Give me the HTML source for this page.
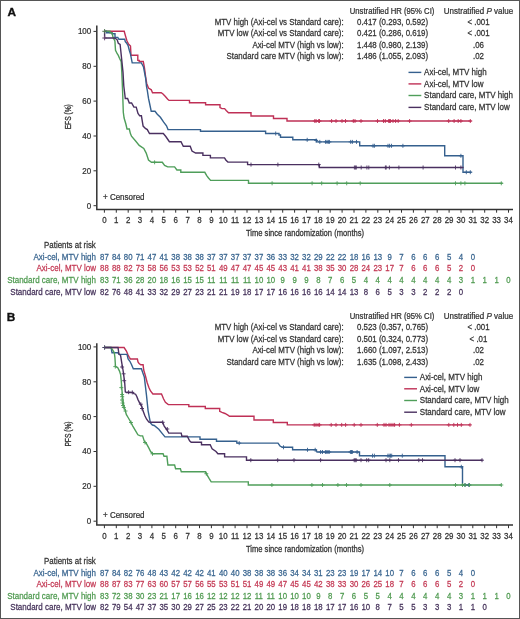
<!DOCTYPE html>
<html><head><meta charset="utf-8"><title>KM curves</title>
<style>html,body{margin:0;padding:0;background:#fff;}svg{display:block;will-change:transform;}text{font-family:"Liberation Sans",sans-serif;}</style>
</head><body>
<svg width="520" height="619" viewBox="0 0 520 619" font-family="Liberation Sans, sans-serif">
<rect x="0" y="0" width="520" height="619" fill="#fff"/>
<text x="7.5" y="16.3" font-size="11.8" font-weight="bold" fill="#111" stroke="#111" stroke-width="0.35">A</text>
<text x="6.8" y="321.0" font-size="11.8" font-weight="bold" fill="#111" stroke="#111" stroke-width="0.35">B</text>
<text transform="translate(349.80,13.50) scale(0.915,1)" font-size="8.4" fill="#333" stroke="#333" stroke-width="0.25">Unstratified HR (95% CI)</text>
<text transform="translate(443.80,13.50) scale(0.93,1)" font-size="8.6" fill="#333" stroke="#333" stroke-width="0.25">Unstratified <tspan font-style="italic">P</tspan> value</text>
<text transform="translate(343.60,24.80) scale(0.918,1)" font-size="8.6" text-anchor="end" fill="#333" stroke="#333" stroke-width="0.25">MTV high (Axi-cel vs Standard care):</text>
<text transform="translate(357.00,24.80) scale(0.918,1)" font-size="8.6" fill="#333" stroke="#333" stroke-width="0.25">0.417 (0.293, 0.592)</text>
<text transform="translate(478.50,24.80) scale(0.918,1)" font-size="8.6" text-anchor="middle" fill="#333" stroke="#333" stroke-width="0.25">&lt; .001</text>
<text transform="translate(343.60,36.30) scale(0.918,1)" font-size="8.6" text-anchor="end" fill="#333" stroke="#333" stroke-width="0.25">MTV low (Axi-cel vs Standard care):</text>
<text transform="translate(357.00,36.30) scale(0.918,1)" font-size="8.6" fill="#333" stroke="#333" stroke-width="0.25">0.421 (0.286, 0.619)</text>
<text transform="translate(478.50,36.30) scale(0.918,1)" font-size="8.6" text-anchor="middle" fill="#333" stroke="#333" stroke-width="0.25">&lt; .001</text>
<text transform="translate(343.60,47.60) scale(0.918,1)" font-size="8.6" text-anchor="end" fill="#333" stroke="#333" stroke-width="0.25">Axi-cel MTV (high vs low):</text>
<text transform="translate(357.00,47.60) scale(0.918,1)" font-size="8.6" fill="#333" stroke="#333" stroke-width="0.25">1.448 (0.980, 2.139)</text>
<text transform="translate(478.50,47.60) scale(0.918,1)" font-size="8.6" text-anchor="middle" fill="#333" stroke="#333" stroke-width="0.25">.06</text>
<text transform="translate(343.60,59.10) scale(0.918,1)" font-size="8.6" text-anchor="end" fill="#333" stroke="#333" stroke-width="0.25">Standard care MTV (high vs low):</text>
<text transform="translate(357.00,59.10) scale(0.918,1)" font-size="8.6" fill="#333" stroke="#333" stroke-width="0.25">1.486 (1.055, 2.093)</text>
<text transform="translate(478.50,59.10) scale(0.918,1)" font-size="8.6" text-anchor="middle" fill="#333" stroke="#333" stroke-width="0.25">.02</text>
<text transform="translate(349.80,318.90) scale(0.915,1)" font-size="8.4" fill="#333" stroke="#333" stroke-width="0.25">Unstratified HR (95% CI)</text>
<text transform="translate(443.80,318.90) scale(0.93,1)" font-size="8.6" fill="#333" stroke="#333" stroke-width="0.25">Unstratified <tspan font-style="italic">P</tspan> value</text>
<text transform="translate(343.60,330.00) scale(0.918,1)" font-size="8.6" text-anchor="end" fill="#333" stroke="#333" stroke-width="0.25">MTV high (Axi-cel vs Standard care):</text>
<text transform="translate(357.00,330.00) scale(0.918,1)" font-size="8.6" fill="#333" stroke="#333" stroke-width="0.25">0.523 (0.357, 0.765)</text>
<text transform="translate(478.50,330.00) scale(0.918,1)" font-size="8.6" text-anchor="middle" fill="#333" stroke="#333" stroke-width="0.25">&lt; .001</text>
<text transform="translate(343.60,341.60) scale(0.918,1)" font-size="8.6" text-anchor="end" fill="#333" stroke="#333" stroke-width="0.25">MTV low (Axi-cel vs Standard care):</text>
<text transform="translate(357.00,341.60) scale(0.918,1)" font-size="8.6" fill="#333" stroke="#333" stroke-width="0.25">0.501 (0.324, 0.773)</text>
<text transform="translate(478.50,341.60) scale(0.918,1)" font-size="8.6" text-anchor="middle" fill="#333" stroke="#333" stroke-width="0.25">&lt; .01</text>
<text transform="translate(343.60,353.30) scale(0.918,1)" font-size="8.6" text-anchor="end" fill="#333" stroke="#333" stroke-width="0.25">Axi-cel MTV (high vs low):</text>
<text transform="translate(357.00,353.30) scale(0.918,1)" font-size="8.6" fill="#333" stroke="#333" stroke-width="0.25">1.660 (1.097, 2.513)</text>
<text transform="translate(478.50,353.30) scale(0.918,1)" font-size="8.6" text-anchor="middle" fill="#333" stroke="#333" stroke-width="0.25">.02</text>
<text transform="translate(343.60,365.00) scale(0.918,1)" font-size="8.6" text-anchor="end" fill="#333" stroke="#333" stroke-width="0.25">Standard care MTV (high vs low):</text>
<text transform="translate(357.00,365.00) scale(0.918,1)" font-size="8.6" fill="#333" stroke="#333" stroke-width="0.25">1.635 (1.098, 2.433)</text>
<text transform="translate(478.50,365.00) scale(0.918,1)" font-size="8.6" text-anchor="middle" fill="#333" stroke="#333" stroke-width="0.25">.02</text>
<path d="M408.5,72.4 h12.8" stroke="#35608e" stroke-width="1.4"/>
<text transform="translate(424.10,75.00) scale(0.92,1)" font-size="8.7" fill="#333" stroke="#333" stroke-width="0.25">Axi-cel, MTV high</text>
<path d="M408.5,83.9 h12.8" stroke="#bf3056" stroke-width="1.4"/>
<text transform="translate(424.10,86.55) scale(0.92,1)" font-size="8.7" fill="#333" stroke="#333" stroke-width="0.25">Axi-cel, MTV low</text>
<path d="M408.5,95.5 h12.8" stroke="#4f9e5a" stroke-width="1.4"/>
<text transform="translate(424.10,98.10) scale(0.92,1)" font-size="8.7" fill="#333" stroke="#333" stroke-width="0.25">Standard care, MTV high</text>
<path d="M408.5,107.4 h12.8" stroke="#4a3060" stroke-width="1.4"/>
<text transform="translate(424.10,109.65) scale(0.92,1)" font-size="8.7" fill="#333" stroke="#333" stroke-width="0.25">Standard care, MTV low</text>
<path d="M404.2,377.4 h12.8" stroke="#35608e" stroke-width="1.4"/>
<text transform="translate(419.80,380.00) scale(0.92,1)" font-size="8.7" fill="#333" stroke="#333" stroke-width="0.25">Axi-cel, MTV high</text>
<path d="M404.2,388.8 h12.8" stroke="#bf3056" stroke-width="1.4"/>
<text transform="translate(419.80,391.55) scale(0.92,1)" font-size="8.7" fill="#333" stroke="#333" stroke-width="0.25">Axi-cel, MTV low</text>
<path d="M404.2,400.5 h12.8" stroke="#4f9e5a" stroke-width="1.4"/>
<text transform="translate(419.80,403.10) scale(0.92,1)" font-size="8.7" fill="#333" stroke="#333" stroke-width="0.25">Standard care, MTV high</text>
<path d="M404.2,412.2 h12.8" stroke="#4a3060" stroke-width="1.4"/>
<text transform="translate(419.80,414.65) scale(0.92,1)" font-size="8.7" fill="#333" stroke="#333" stroke-width="0.25">Standard care, MTV low</text>
<path d="M96.8,25.5 V209.5 H513" fill="none" stroke="#333" stroke-width="1.5"/>
<path d="M93.5,205.7 H96" stroke="#333" stroke-width="1"/>
<text transform="translate(91.20,208.70) scale(0.94,1)" font-size="8.5" text-anchor="end" fill="#333" stroke="#333" stroke-width="0.25">0</text>
<path d="M93.5,170.8 H96" stroke="#333" stroke-width="1"/>
<text transform="translate(91.20,173.84) scale(0.94,1)" font-size="8.5" text-anchor="end" fill="#333" stroke="#333" stroke-width="0.25">20</text>
<path d="M93.5,136.0 H96" stroke="#333" stroke-width="1"/>
<text transform="translate(91.20,138.98) scale(0.94,1)" font-size="8.5" text-anchor="end" fill="#333" stroke="#333" stroke-width="0.25">40</text>
<path d="M93.5,101.1 H96" stroke="#333" stroke-width="1"/>
<text transform="translate(91.20,104.12) scale(0.94,1)" font-size="8.5" text-anchor="end" fill="#333" stroke="#333" stroke-width="0.25">60</text>
<path d="M93.5,66.3 H96" stroke="#333" stroke-width="1"/>
<text transform="translate(91.20,69.26) scale(0.94,1)" font-size="8.5" text-anchor="end" fill="#333" stroke="#333" stroke-width="0.25">80</text>
<path d="M93.5,31.4 H96" stroke="#333" stroke-width="1"/>
<text transform="translate(91.20,34.40) scale(0.94,1)" font-size="8.5" text-anchor="end" fill="#333" stroke="#333" stroke-width="0.25">100</text>
<path d="M104.4,209.5 V212.7" stroke="#333" stroke-width="1"/>
<text transform="translate(104.40,222.50) scale(0.92,1)" font-size="8.6" text-anchor="middle" fill="#333" stroke="#333" stroke-width="0.25">0</text>
<path d="M116.3,209.5 V212.7" stroke="#333" stroke-width="1"/>
<text transform="translate(116.29,222.50) scale(0.92,1)" font-size="8.6" text-anchor="middle" fill="#333" stroke="#333" stroke-width="0.25">1</text>
<path d="M128.2,209.5 V212.7" stroke="#333" stroke-width="1"/>
<text transform="translate(128.17,222.50) scale(0.92,1)" font-size="8.6" text-anchor="middle" fill="#333" stroke="#333" stroke-width="0.25">2</text>
<path d="M140.1,209.5 V212.7" stroke="#333" stroke-width="1"/>
<text transform="translate(140.06,222.50) scale(0.92,1)" font-size="8.6" text-anchor="middle" fill="#333" stroke="#333" stroke-width="0.25">3</text>
<path d="M151.9,209.5 V212.7" stroke="#333" stroke-width="1"/>
<text transform="translate(151.94,222.50) scale(0.92,1)" font-size="8.6" text-anchor="middle" fill="#333" stroke="#333" stroke-width="0.25">4</text>
<path d="M163.8,209.5 V212.7" stroke="#333" stroke-width="1"/>
<text transform="translate(163.82,222.50) scale(0.92,1)" font-size="8.6" text-anchor="middle" fill="#333" stroke="#333" stroke-width="0.25">5</text>
<path d="M175.7,209.5 V212.7" stroke="#333" stroke-width="1"/>
<text transform="translate(175.71,222.50) scale(0.92,1)" font-size="8.6" text-anchor="middle" fill="#333" stroke="#333" stroke-width="0.25">6</text>
<path d="M187.6,209.5 V212.7" stroke="#333" stroke-width="1"/>
<text transform="translate(187.59,222.50) scale(0.92,1)" font-size="8.6" text-anchor="middle" fill="#333" stroke="#333" stroke-width="0.25">7</text>
<path d="M199.5,209.5 V212.7" stroke="#333" stroke-width="1"/>
<text transform="translate(199.48,222.50) scale(0.92,1)" font-size="8.6" text-anchor="middle" fill="#333" stroke="#333" stroke-width="0.25">8</text>
<path d="M211.4,209.5 V212.7" stroke="#333" stroke-width="1"/>
<text transform="translate(211.37,222.50) scale(0.92,1)" font-size="8.6" text-anchor="middle" fill="#333" stroke="#333" stroke-width="0.25">9</text>
<path d="M223.2,209.5 V212.7" stroke="#333" stroke-width="1"/>
<text transform="translate(223.25,222.50) scale(0.92,1)" font-size="8.6" text-anchor="middle" fill="#333" stroke="#333" stroke-width="0.25">10</text>
<path d="M235.1,209.5 V212.7" stroke="#333" stroke-width="1"/>
<text transform="translate(235.13,222.50) scale(0.92,1)" font-size="8.6" text-anchor="middle" fill="#333" stroke="#333" stroke-width="0.25">11</text>
<path d="M247.0,209.5 V212.7" stroke="#333" stroke-width="1"/>
<text transform="translate(247.02,222.50) scale(0.92,1)" font-size="8.6" text-anchor="middle" fill="#333" stroke="#333" stroke-width="0.25">12</text>
<path d="M258.9,209.5 V212.7" stroke="#333" stroke-width="1"/>
<text transform="translate(258.90,222.50) scale(0.92,1)" font-size="8.6" text-anchor="middle" fill="#333" stroke="#333" stroke-width="0.25">13</text>
<path d="M270.8,209.5 V212.7" stroke="#333" stroke-width="1"/>
<text transform="translate(270.79,222.50) scale(0.92,1)" font-size="8.6" text-anchor="middle" fill="#333" stroke="#333" stroke-width="0.25">14</text>
<path d="M282.7,209.5 V212.7" stroke="#333" stroke-width="1"/>
<text transform="translate(282.68,222.50) scale(0.92,1)" font-size="8.6" text-anchor="middle" fill="#333" stroke="#333" stroke-width="0.25">15</text>
<path d="M294.6,209.5 V212.7" stroke="#333" stroke-width="1"/>
<text transform="translate(294.56,222.50) scale(0.92,1)" font-size="8.6" text-anchor="middle" fill="#333" stroke="#333" stroke-width="0.25">16</text>
<path d="M306.4,209.5 V212.7" stroke="#333" stroke-width="1"/>
<text transform="translate(306.44,222.50) scale(0.92,1)" font-size="8.6" text-anchor="middle" fill="#333" stroke="#333" stroke-width="0.25">17</text>
<path d="M318.3,209.5 V212.7" stroke="#333" stroke-width="1"/>
<text transform="translate(318.33,222.50) scale(0.92,1)" font-size="8.6" text-anchor="middle" fill="#333" stroke="#333" stroke-width="0.25">18</text>
<path d="M330.2,209.5 V212.7" stroke="#333" stroke-width="1"/>
<text transform="translate(330.22,222.50) scale(0.92,1)" font-size="8.6" text-anchor="middle" fill="#333" stroke="#333" stroke-width="0.25">19</text>
<path d="M342.1,209.5 V212.7" stroke="#333" stroke-width="1"/>
<text transform="translate(342.10,222.50) scale(0.92,1)" font-size="8.6" text-anchor="middle" fill="#333" stroke="#333" stroke-width="0.25">20</text>
<path d="M354.0,209.5 V212.7" stroke="#333" stroke-width="1"/>
<text transform="translate(353.99,222.50) scale(0.92,1)" font-size="8.6" text-anchor="middle" fill="#333" stroke="#333" stroke-width="0.25">21</text>
<path d="M365.9,209.5 V212.7" stroke="#333" stroke-width="1"/>
<text transform="translate(365.87,222.50) scale(0.92,1)" font-size="8.6" text-anchor="middle" fill="#333" stroke="#333" stroke-width="0.25">22</text>
<path d="M377.8,209.5 V212.7" stroke="#333" stroke-width="1"/>
<text transform="translate(377.75,222.50) scale(0.92,1)" font-size="8.6" text-anchor="middle" fill="#333" stroke="#333" stroke-width="0.25">23</text>
<path d="M389.6,209.5 V212.7" stroke="#333" stroke-width="1"/>
<text transform="translate(389.64,222.50) scale(0.92,1)" font-size="8.6" text-anchor="middle" fill="#333" stroke="#333" stroke-width="0.25">24</text>
<path d="M401.5,209.5 V212.7" stroke="#333" stroke-width="1"/>
<text transform="translate(401.52,222.50) scale(0.92,1)" font-size="8.6" text-anchor="middle" fill="#333" stroke="#333" stroke-width="0.25">25</text>
<path d="M413.4,209.5 V212.7" stroke="#333" stroke-width="1"/>
<text transform="translate(413.41,222.50) scale(0.92,1)" font-size="8.6" text-anchor="middle" fill="#333" stroke="#333" stroke-width="0.25">26</text>
<path d="M425.3,209.5 V212.7" stroke="#333" stroke-width="1"/>
<text transform="translate(425.29,222.50) scale(0.92,1)" font-size="8.6" text-anchor="middle" fill="#333" stroke="#333" stroke-width="0.25">27</text>
<path d="M437.2,209.5 V212.7" stroke="#333" stroke-width="1"/>
<text transform="translate(437.18,222.50) scale(0.92,1)" font-size="8.6" text-anchor="middle" fill="#333" stroke="#333" stroke-width="0.25">28</text>
<path d="M449.1,209.5 V212.7" stroke="#333" stroke-width="1"/>
<text transform="translate(449.07,222.50) scale(0.92,1)" font-size="8.6" text-anchor="middle" fill="#333" stroke="#333" stroke-width="0.25">29</text>
<path d="M461.0,209.5 V212.7" stroke="#333" stroke-width="1"/>
<text transform="translate(460.95,222.50) scale(0.92,1)" font-size="8.6" text-anchor="middle" fill="#333" stroke="#333" stroke-width="0.25">30</text>
<path d="M472.8,209.5 V212.7" stroke="#333" stroke-width="1"/>
<text transform="translate(472.84,222.50) scale(0.92,1)" font-size="8.6" text-anchor="middle" fill="#333" stroke="#333" stroke-width="0.25">31</text>
<path d="M484.7,209.5 V212.7" stroke="#333" stroke-width="1"/>
<text transform="translate(484.72,222.50) scale(0.92,1)" font-size="8.6" text-anchor="middle" fill="#333" stroke="#333" stroke-width="0.25">32</text>
<path d="M496.6,209.5 V212.7" stroke="#333" stroke-width="1"/>
<text transform="translate(496.61,222.50) scale(0.92,1)" font-size="8.6" text-anchor="middle" fill="#333" stroke="#333" stroke-width="0.25">33</text>
<path d="M508.5,209.5 V212.7" stroke="#333" stroke-width="1"/>
<text transform="translate(508.49,222.50) scale(0.92,1)" font-size="8.6" text-anchor="middle" fill="#333" stroke="#333" stroke-width="0.25">34</text>
<text transform="translate(305,235.7) scale(0.775,1)" text-anchor="middle" font-size="9.8" fill="#333" stroke="#333" stroke-width="0.3">Time since randomization (months)</text>
<text transform="translate(71.4,116.8) rotate(-90) scale(0.74,1)" text-anchor="middle" font-size="9" fill="#333" stroke="#333" stroke-width="0.3">EFS (%)</text>
<path d="M96.8,343.2 V525 H513" fill="none" stroke="#333" stroke-width="1.5"/>
<path d="M93.5,521.2 H96" stroke="#333" stroke-width="1"/>
<text transform="translate(91.20,524.20) scale(0.94,1)" font-size="8.5" text-anchor="end" fill="#333" stroke="#333" stroke-width="0.25">0</text>
<path d="M93.5,486.3 H96" stroke="#333" stroke-width="1"/>
<text transform="translate(91.20,489.34) scale(0.94,1)" font-size="8.5" text-anchor="end" fill="#333" stroke="#333" stroke-width="0.25">20</text>
<path d="M93.5,451.5 H96" stroke="#333" stroke-width="1"/>
<text transform="translate(91.20,454.48) scale(0.94,1)" font-size="8.5" text-anchor="end" fill="#333" stroke="#333" stroke-width="0.25">40</text>
<path d="M93.5,416.6 H96" stroke="#333" stroke-width="1"/>
<text transform="translate(91.20,419.62) scale(0.94,1)" font-size="8.5" text-anchor="end" fill="#333" stroke="#333" stroke-width="0.25">60</text>
<path d="M93.5,381.8 H96" stroke="#333" stroke-width="1"/>
<text transform="translate(91.20,384.76) scale(0.94,1)" font-size="8.5" text-anchor="end" fill="#333" stroke="#333" stroke-width="0.25">80</text>
<path d="M93.5,346.9 H96" stroke="#333" stroke-width="1"/>
<text transform="translate(91.20,349.90) scale(0.94,1)" font-size="8.5" text-anchor="end" fill="#333" stroke="#333" stroke-width="0.25">100</text>
<path d="M104.4,525 V528.2" stroke="#333" stroke-width="1"/>
<text transform="translate(104.40,538.50) scale(0.92,1)" font-size="8.6" text-anchor="middle" fill="#333" stroke="#333" stroke-width="0.25">0</text>
<path d="M116.3,525 V528.2" stroke="#333" stroke-width="1"/>
<text transform="translate(116.29,538.50) scale(0.92,1)" font-size="8.6" text-anchor="middle" fill="#333" stroke="#333" stroke-width="0.25">1</text>
<path d="M128.2,525 V528.2" stroke="#333" stroke-width="1"/>
<text transform="translate(128.17,538.50) scale(0.92,1)" font-size="8.6" text-anchor="middle" fill="#333" stroke="#333" stroke-width="0.25">2</text>
<path d="M140.1,525 V528.2" stroke="#333" stroke-width="1"/>
<text transform="translate(140.06,538.50) scale(0.92,1)" font-size="8.6" text-anchor="middle" fill="#333" stroke="#333" stroke-width="0.25">3</text>
<path d="M151.9,525 V528.2" stroke="#333" stroke-width="1"/>
<text transform="translate(151.94,538.50) scale(0.92,1)" font-size="8.6" text-anchor="middle" fill="#333" stroke="#333" stroke-width="0.25">4</text>
<path d="M163.8,525 V528.2" stroke="#333" stroke-width="1"/>
<text transform="translate(163.82,538.50) scale(0.92,1)" font-size="8.6" text-anchor="middle" fill="#333" stroke="#333" stroke-width="0.25">5</text>
<path d="M175.7,525 V528.2" stroke="#333" stroke-width="1"/>
<text transform="translate(175.71,538.50) scale(0.92,1)" font-size="8.6" text-anchor="middle" fill="#333" stroke="#333" stroke-width="0.25">6</text>
<path d="M187.6,525 V528.2" stroke="#333" stroke-width="1"/>
<text transform="translate(187.59,538.50) scale(0.92,1)" font-size="8.6" text-anchor="middle" fill="#333" stroke="#333" stroke-width="0.25">7</text>
<path d="M199.5,525 V528.2" stroke="#333" stroke-width="1"/>
<text transform="translate(199.48,538.50) scale(0.92,1)" font-size="8.6" text-anchor="middle" fill="#333" stroke="#333" stroke-width="0.25">8</text>
<path d="M211.4,525 V528.2" stroke="#333" stroke-width="1"/>
<text transform="translate(211.37,538.50) scale(0.92,1)" font-size="8.6" text-anchor="middle" fill="#333" stroke="#333" stroke-width="0.25">9</text>
<path d="M223.2,525 V528.2" stroke="#333" stroke-width="1"/>
<text transform="translate(223.25,538.50) scale(0.92,1)" font-size="8.6" text-anchor="middle" fill="#333" stroke="#333" stroke-width="0.25">10</text>
<path d="M235.1,525 V528.2" stroke="#333" stroke-width="1"/>
<text transform="translate(235.13,538.50) scale(0.92,1)" font-size="8.6" text-anchor="middle" fill="#333" stroke="#333" stroke-width="0.25">11</text>
<path d="M247.0,525 V528.2" stroke="#333" stroke-width="1"/>
<text transform="translate(247.02,538.50) scale(0.92,1)" font-size="8.6" text-anchor="middle" fill="#333" stroke="#333" stroke-width="0.25">12</text>
<path d="M258.9,525 V528.2" stroke="#333" stroke-width="1"/>
<text transform="translate(258.90,538.50) scale(0.92,1)" font-size="8.6" text-anchor="middle" fill="#333" stroke="#333" stroke-width="0.25">13</text>
<path d="M270.8,525 V528.2" stroke="#333" stroke-width="1"/>
<text transform="translate(270.79,538.50) scale(0.92,1)" font-size="8.6" text-anchor="middle" fill="#333" stroke="#333" stroke-width="0.25">14</text>
<path d="M282.7,525 V528.2" stroke="#333" stroke-width="1"/>
<text transform="translate(282.68,538.50) scale(0.92,1)" font-size="8.6" text-anchor="middle" fill="#333" stroke="#333" stroke-width="0.25">15</text>
<path d="M294.6,525 V528.2" stroke="#333" stroke-width="1"/>
<text transform="translate(294.56,538.50) scale(0.92,1)" font-size="8.6" text-anchor="middle" fill="#333" stroke="#333" stroke-width="0.25">16</text>
<path d="M306.4,525 V528.2" stroke="#333" stroke-width="1"/>
<text transform="translate(306.44,538.50) scale(0.92,1)" font-size="8.6" text-anchor="middle" fill="#333" stroke="#333" stroke-width="0.25">17</text>
<path d="M318.3,525 V528.2" stroke="#333" stroke-width="1"/>
<text transform="translate(318.33,538.50) scale(0.92,1)" font-size="8.6" text-anchor="middle" fill="#333" stroke="#333" stroke-width="0.25">18</text>
<path d="M330.2,525 V528.2" stroke="#333" stroke-width="1"/>
<text transform="translate(330.22,538.50) scale(0.92,1)" font-size="8.6" text-anchor="middle" fill="#333" stroke="#333" stroke-width="0.25">19</text>
<path d="M342.1,525 V528.2" stroke="#333" stroke-width="1"/>
<text transform="translate(342.10,538.50) scale(0.92,1)" font-size="8.6" text-anchor="middle" fill="#333" stroke="#333" stroke-width="0.25">20</text>
<path d="M354.0,525 V528.2" stroke="#333" stroke-width="1"/>
<text transform="translate(353.99,538.50) scale(0.92,1)" font-size="8.6" text-anchor="middle" fill="#333" stroke="#333" stroke-width="0.25">21</text>
<path d="M365.9,525 V528.2" stroke="#333" stroke-width="1"/>
<text transform="translate(365.87,538.50) scale(0.92,1)" font-size="8.6" text-anchor="middle" fill="#333" stroke="#333" stroke-width="0.25">22</text>
<path d="M377.8,525 V528.2" stroke="#333" stroke-width="1"/>
<text transform="translate(377.75,538.50) scale(0.92,1)" font-size="8.6" text-anchor="middle" fill="#333" stroke="#333" stroke-width="0.25">23</text>
<path d="M389.6,525 V528.2" stroke="#333" stroke-width="1"/>
<text transform="translate(389.64,538.50) scale(0.92,1)" font-size="8.6" text-anchor="middle" fill="#333" stroke="#333" stroke-width="0.25">24</text>
<path d="M401.5,525 V528.2" stroke="#333" stroke-width="1"/>
<text transform="translate(401.52,538.50) scale(0.92,1)" font-size="8.6" text-anchor="middle" fill="#333" stroke="#333" stroke-width="0.25">25</text>
<path d="M413.4,525 V528.2" stroke="#333" stroke-width="1"/>
<text transform="translate(413.41,538.50) scale(0.92,1)" font-size="8.6" text-anchor="middle" fill="#333" stroke="#333" stroke-width="0.25">26</text>
<path d="M425.3,525 V528.2" stroke="#333" stroke-width="1"/>
<text transform="translate(425.29,538.50) scale(0.92,1)" font-size="8.6" text-anchor="middle" fill="#333" stroke="#333" stroke-width="0.25">27</text>
<path d="M437.2,525 V528.2" stroke="#333" stroke-width="1"/>
<text transform="translate(437.18,538.50) scale(0.92,1)" font-size="8.6" text-anchor="middle" fill="#333" stroke="#333" stroke-width="0.25">28</text>
<path d="M449.1,525 V528.2" stroke="#333" stroke-width="1"/>
<text transform="translate(449.07,538.50) scale(0.92,1)" font-size="8.6" text-anchor="middle" fill="#333" stroke="#333" stroke-width="0.25">29</text>
<path d="M461.0,525 V528.2" stroke="#333" stroke-width="1"/>
<text transform="translate(460.95,538.50) scale(0.92,1)" font-size="8.6" text-anchor="middle" fill="#333" stroke="#333" stroke-width="0.25">30</text>
<path d="M472.8,525 V528.2" stroke="#333" stroke-width="1"/>
<text transform="translate(472.84,538.50) scale(0.92,1)" font-size="8.6" text-anchor="middle" fill="#333" stroke="#333" stroke-width="0.25">31</text>
<path d="M484.7,525 V528.2" stroke="#333" stroke-width="1"/>
<text transform="translate(484.72,538.50) scale(0.92,1)" font-size="8.6" text-anchor="middle" fill="#333" stroke="#333" stroke-width="0.25">32</text>
<path d="M496.6,525 V528.2" stroke="#333" stroke-width="1"/>
<text transform="translate(496.61,538.50) scale(0.92,1)" font-size="8.6" text-anchor="middle" fill="#333" stroke="#333" stroke-width="0.25">33</text>
<path d="M508.5,525 V528.2" stroke="#333" stroke-width="1"/>
<text transform="translate(508.49,538.50) scale(0.92,1)" font-size="8.6" text-anchor="middle" fill="#333" stroke="#333" stroke-width="0.25">34</text>
<text transform="translate(305,551.7) scale(0.775,1)" text-anchor="middle" font-size="9.8" fill="#333" stroke="#333" stroke-width="0.3">Time since randomization (months)</text>
<text transform="translate(71.4,434) rotate(-90) scale(0.74,1)" text-anchor="middle" font-size="9" fill="#333" stroke="#333" stroke-width="0.3">PFS (%)</text>
<text transform="translate(103.00,199.80) scale(0.93,1)" font-size="8.6" fill="#333" stroke="#333" stroke-width="0.25">+ Censored</text>
<text transform="translate(103.00,517.60) scale(0.93,1)" font-size="8.6" fill="#333" stroke="#333" stroke-width="0.25">+ Censored</text>
<path d="M104.5,31.3 H124.2 L125.5,36 L127,41 L128.5,44 L130.5,46 L131,55.2 H137.8 V60.4 H139.2 V61.5 H143.3 L144.5,68 L145.6,76.5 L146.7,83.4 L148.5,88 L151.3,89.8 L152.5,92.7 H161.2 L163,94 L165.4,96.5 L167.5,99 L169,100.4 H189.5 V102.7 H205.6 V104.7 H220 V107.5 L222,108.6 H224.6 L226.2,110.4 L228.5,112.7 H251 V116 H273.5 V118.5 H287 V121 H471.6" fill="none" stroke="#bf3056" stroke-width="1.4" stroke-linejoin="miter"/>
<path d="M104.5,31.3 H106.5 V32.8 H112 V33.8 H115 V37.5 H117.8 L118.9,39.3 H124.7 L125.3,41.6 L126.5,43 L128.1,45.6 L129.3,50.2 L130.4,53.7 L132.2,62.9 H141.4 L142.6,65.2 L143.5,67 L145.6,78 L146.5,86.5 L147.3,90.4 L148.5,98.4 L149.5,103 L151.2,111.2 H155 L157.3,114.2 L160.4,117.3 L163.5,121.9 L166.5,125.8 L168,129.6 H200.5 V131.3 H265.6 V133.5 H279 V135 H280.5 V137.3 H292.8 V139.8 H316.5 V141.9 H359.7 V145.8 H444.7 V155.8 H463 V172.2 H471.6" fill="none" stroke="#35608e" stroke-width="1.4" stroke-linejoin="miter"/>
<path d="M104.5,31.3 H110 V32.9 H112 L113.1,37.5 L114.9,41 L115.5,50.2 L117.2,53.7 L118.3,55.4 L119.5,58.3 L121.2,61.8 L121.8,72.1 L122.6,91.5 L123.3,112.3 L124.1,118 L125.8,123.8 L127,129 H129.3 L130.4,133.6 L131.5,136.2 L135.4,140.8 L139.2,145.4 L143.8,148.5 L146.2,153.1 L148.5,160 L151.5,162.3 H162.3 L164.6,165.4 L167.7,166.9 H174.6 L176.9,170 H180.8 V172.3 H204.8 L206.7,175.6 L208.5,178 L210.6,180.4 H248.5 V183.3 H502.6" fill="none" stroke="#4f9e5a" stroke-width="1.4" stroke-linejoin="miter"/>
<path d="M104.6,31.3 V38 H114.4 L115.5,38.5 L117.2,39.8 L118.3,43.3 L120.1,44.5 L120.6,49 L121.8,60.6 L123,72.1 L123.8,86 L125.3,98.5 H127.6 L129.3,103 H131.6 L133.9,107.1 H136.2 L138,113.4 L139.7,115.8 H141.4 L143.1,126.1 L145.4,128.4 L147.3,129.6 L149.5,133.5 H163.3 L165.8,136.5 L169.4,141.7 H181 L183.3,146.3 H190.2 L192,151 L195.6,153 H202.9 V155.4 H210.4 V157.9 H224.5 L226,160.2 L227.9,162.1 H247.6 V164.6 H319.3 V167.5 H463.6" fill="none" stroke="#4a3060" stroke-width="1.4" stroke-linejoin="miter"/>
<path d="M314.8,119 v4 M312.8,121 h4 M316.1,119 v4 M314.1,121 h4 M318.7,119 v4 M316.7,121 h4 M319.5,119 v4 M317.5,121 h4 M331.6,119 v4 M329.6,121 h4 M336,119 v4 M334,121 h4 M342,119 v4 M340,121 h4 M345.5,119 v4 M343.5,121 h4 M353.3,119 v4 M351.3,121 h4 M355,119 v4 M353,121 h4 M361,119 v4 M359,121 h4 M377.5,119 v4 M375.5,121 h4 M383.5,119 v4 M381.5,121 h4 M385.3,119 v4 M383.3,121 h4 M388.7,119 v4 M386.7,121 h4 M389.6,119 v4 M387.6,121 h4 M390.4,119 v4 M388.4,121 h4 M393,119 v4 M391,121 h4 M395.6,119 v4 M393.6,121 h4 M398.2,119 v4 M396.2,121 h4 M409.6,119 v4 M407.6,121 h4 M448.7,119 v4 M446.7,121 h4 M454.1,119 v4 M452.1,121 h4 M458.2,119 v4 M456.2,121 h4 M460.9,119 v4 M458.9,121 h4 M470.3,119 v4 M468.3,121 h4" fill="none" stroke="#bf3056" stroke-width="0.9"/>
<path d="M275.7,131.5 v4 M273.7,133.5 h4 M307.2,137.8 v4 M305.2,139.8 h4 M316.2,138.5 v4 M314.2,140.5 h4 M319.8,139.9 v4 M317.8,141.9 h4 M325.6,139.9 v4 M323.6,141.9 h4 M327,139.9 v4 M325,141.9 h4 M328.3,139.9 v4 M326.3,141.9 h4 M329.4,139.9 v4 M327.4,141.9 h4 M350.7,139.9 v4 M348.7,141.9 h4 M352.4,139.9 v4 M350.4,141.9 h4 M356.5,139.9 v4 M354.5,141.9 h4 M373,143.8 v4 M371,145.8 h4 M374.4,143.8 v4 M372.4,145.8 h4 M388,143.8 v4 M386,145.8 h4 M389.6,143.8 v4 M387.6,145.8 h4 M391.5,143.8 v4 M389.5,145.8 h4 M402.9,143.8 v4 M400.9,145.8 h4 M460.9,153.8 v4 M458.9,155.8 h4 M466.3,170.2 v4 M464.3,172.2 h4 M470.3,170.2 v4 M468.3,172.2 h4" fill="none" stroke="#35608e" stroke-width="0.9"/>
<path d="M251,162.6 v4 M249,164.6 h4 M277.9,162.6 v4 M275.9,164.6 h4 M318.8,162.6 v4 M316.8,164.6 h4 M354.4,165.5 v4 M352.4,167.5 h4 M355.4,165.5 v4 M353.4,167.5 h4 M356.3,165.5 v4 M354.3,167.5 h4 M361.2,165.5 v4 M359.2,167.5 h4 M366.9,165.5 v4 M364.9,167.5 h4 M368.8,165.5 v4 M366.8,167.5 h4 M385.4,165.5 v4 M383.4,167.5 h4 M386.2,165.5 v4 M384.2,167.5 h4 M389.4,165.5 v4 M387.4,167.5 h4 M398.9,165.5 v4 M396.9,167.5 h4 M423.1,165.5 v4 M421.1,167.5 h4 M455.5,165.5 v4 M453.5,167.5 h4 M460.9,165.5 v4 M458.9,167.5 h4" fill="none" stroke="#4a3060" stroke-width="0.9"/>
<path d="M154.6,160.3 v4 M152.6,162.3 h4 M272.1,181.3 v4 M270.1,183.3 h4 M312.1,181.3 v4 M310.1,183.3 h4 M321.7,181.3 v4 M319.7,183.3 h4 M337.1,181.3 v4 M335.1,183.3 h4 M346.7,181.3 v4 M344.7,183.3 h4 M360.2,181.3 v4 M358.2,183.3 h4 M455.5,181.3 v4 M453.5,183.3 h4 M460.9,181.3 v4 M458.9,183.3 h4 M464.9,181.3 v4 M462.9,183.3 h4 M501.3,181.3 v4 M499.3,183.3 h4" fill="none" stroke="#4f9e5a" stroke-width="0.9"/>
<path d="M102.3,31.3 h4.6 M104.6,29 v4.6" stroke="#557755" stroke-width="1"/>
<path d="M102.3,38 h4.6 M104.6,35.7 v4.6" stroke="#6a4a70" stroke-width="1"/>
<path d="M102.3,347.5 h4.6 M104.6,345.2 v4.6" stroke="#444466" stroke-width="1"/>
<path d="M104.5,347.5 H124.1 L126.4,351 L128.1,355 L129.3,357.3 L130.4,359 H137.4 L138,361.9 L139.1,363.6 L140.8,364.8 H143.1 L143.7,370 L145.4,375.8 L147.2,382.7 L148.9,387.5 L150.5,391 L152.9,394 H161.5 L163.5,398.8 L165.4,402.3 L168.3,404.6 H188.8 V406.5 H205.3 V408.5 H219.7 V411.3 L222,412.3 L225,413.5 L227.9,415.2 L229.5,416.3 H254 V420 H273.3 V422.5 H287.3 V424.9 H470.5" fill="none" stroke="#bf3056" stroke-width="1.4" stroke-linejoin="miter"/>
<path d="M104.5,347.5 H111 L111.4,349.2 L112,352.7 H117.8 L118.9,354.4 H127 L128.1,359 L129.9,361.3 L131.6,364.8 L133.3,368.8 H141.4 L142.6,372.3 L144.3,376.9 L145.4,386.1 L146.5,395.4 L148.1,410.8 L150.4,423 L152.4,425 L154.2,425.5 L158.8,429.2 L161.9,433.1 L165,436.9 H200 V439.2 H216.5 V441.2 H236.8 V443.1 H278 L280,446 L282.5,447.3 H292.6 V449.8 H316 L317,452 H359.5 V455.7 H445 V466.8 H462.5 V485 H470" fill="none" stroke="#35608e" stroke-width="1.4" stroke-linejoin="miter"/>
<path d="M104.5,347.5 H111 L112.6,349.8 L114.3,352.7 L114.9,357.3 L115.5,366.5 L117.8,367.7 L119.5,371.1 L120.6,374.6 L121.2,380.4 L121.8,388.4 L122.4,395 L123.5,404.2 L124.7,408.8 L126.4,414.6 L128.1,417.5 L130.4,421.5 L132.8,426.1 L135.6,430.8 L137.9,434.8 L140.3,435.9 H142.6 L144.3,441.1 L146.6,444 L148.9,448.1 L150.6,451.5 L152.5,453.8 H163.1 L164,456.3 H166.9 L167.9,465 H174.6 L175.6,468.8 H180.4 L181.3,471.7 H205.4 L206.3,473.7 L209.2,478.7 L211.2,481.9 H248.3 V485 H501.3" fill="none" stroke="#4f9e5a" stroke-width="1.4" stroke-linejoin="miter"/>
<path d="M104.5,347.5 H118 L118.9,353.8 L120.6,355.6 L121.8,363.1 L123,370 L124.1,378.1 L124.7,382.7 L125.3,391.9 L126.4,392.5 H132.8 L133.9,393.6 L135.6,394.2 L136.8,396.5 L138,399.6 L139.7,403.1 L141.4,405.4 L143.1,411.1 L144.9,415.8 L146.6,419.2 L148.9,422.1 L150,422.3 H162.7 L164.2,426.2 L166.5,429.2 L168.8,433.1 H181.2 L181.9,436.2 H187.3 L189.6,440.8 L191.2,442.3 H201.5 V444.8 H210.2 L212.1,448.7 L216,451.5 L217.9,453.8 H224.6 V456.9 H246.5 V460.2 H482.5" fill="none" stroke="#4a3060" stroke-width="1.4" stroke-linejoin="miter"/>
<path d="M314.2,422.9 v4 M312.2,424.9 h4 M316,422.9 v4 M314,424.9 h4 M318.1,422.9 v4 M316.1,424.9 h4 M319.6,422.9 v4 M317.6,424.9 h4 M331.2,422.9 v4 M329.2,424.9 h4 M336,422.9 v4 M334,424.9 h4 M341.7,422.9 v4 M339.7,424.9 h4 M345.6,422.9 v4 M343.6,424.9 h4 M354.2,422.9 v4 M352.2,424.9 h4 M361,422.9 v4 M359,424.9 h4 M377.3,422.9 v4 M375.3,424.9 h4 M384,422.9 v4 M382,424.9 h4 M386,422.9 v4 M384,424.9 h4 M389,422.9 v4 M387,424.9 h4 M391,422.9 v4 M389,424.9 h4 M393,422.9 v4 M391,424.9 h4 M394.6,422.9 v4 M392.6,424.9 h4 M399.4,422.9 v4 M397.4,424.9 h4 M411.3,422.9 v4 M409.3,424.9 h4 M448.8,422.9 v4 M446.8,424.9 h4 M453.8,422.9 v4 M451.8,424.9 h4 M457.5,422.9 v4 M455.5,424.9 h4 M461.3,422.9 v4 M459.3,424.9 h4 M470,422.9 v4 M468,424.9 h4" fill="none" stroke="#bf3056" stroke-width="0.9"/>
<path d="M239.2,441.1 v4 M237.2,443.1 h4 M283.5,445.3 v4 M281.5,447.3 h4 M307.5,447.8 v4 M305.5,449.8 h4 M315.2,447.8 v4 M313.2,449.8 h4 M320.6,450 v4 M318.6,452 h4 M322.5,450 v4 M320.5,452 h4 M325.4,450 v4 M323.4,452 h4 M326.8,450 v4 M324.8,452 h4 M328,450 v4 M326,452 h4 M329.2,450 v4 M327.2,452 h4 M350.4,450 v4 M348.4,452 h4 M351.5,450 v4 M349.5,452 h4 M352.3,450 v4 M350.3,452 h4 M357.1,450 v4 M355.1,452 h4 M372.5,453.7 v4 M370.5,455.7 h4 M374.4,453.7 v4 M372.4,455.7 h4 M387.9,453.7 v4 M385.9,455.7 h4 M389.2,453.7 v4 M387.2,455.7 h4 M390.5,453.7 v4 M388.5,455.7 h4 M391.7,453.7 v4 M389.7,455.7 h4 M402.3,453.7 v4 M400.3,455.7 h4 M461.3,464.8 v4 M459.3,466.8 h4 M465,483 v4 M463,485 h4 M468.8,483 v4 M466.8,485 h4" fill="none" stroke="#35608e" stroke-width="0.9"/>
<path d="M122.1,365 v4 M120.1,367 h4 M123.6,371.8 v4 M121.6,373.8 h4 M124.2,378.7 v4 M122.2,380.7 h4 M128.6,390.2 v4 M126.6,392.2 h4 M132.3,390.4 v4 M130.3,392.4 h4 M140.8,402.2 v4 M138.8,404.2 h4 M142,406.5 v4 M140,408.5 h4 M162.7,420.3 v4 M160.7,422.3 h4 M167.3,427 v4 M165.3,429 h4 M250.8,458.2 v4 M248.8,460.2 h4 M277.7,458.2 v4 M275.7,460.2 h4 M294,458.2 v4 M292,460.2 h4 M320.6,458.2 v4 M318.6,460.2 h4 M354.2,458.2 v4 M352.2,460.2 h4 M355.2,458.2 v4 M353.2,460.2 h4 M356.2,458.2 v4 M354.2,460.2 h4 M361,458.2 v4 M359,460.2 h4 M366.7,458.2 v4 M364.7,460.2 h4 M368.7,458.2 v4 M366.7,460.2 h4 M386,458.2 v4 M384,460.2 h4 M389.8,458.2 v4 M387.8,460.2 h4 M398.5,458.2 v4 M396.5,460.2 h4 M418.8,458.2 v4 M416.8,460.2 h4 M422.5,458.2 v4 M420.5,460.2 h4 M455,458.2 v4 M453,460.2 h4 M460,458.2 v4 M458,460.2 h4 M482,458.2 v4 M480,460.2 h4" fill="none" stroke="#4a3060" stroke-width="0.9"/>
<path d="M115.3,364.6 v4 M113.3,366.6 h4 M121.3,385.6 v4 M119.3,387.6 h4 M122.1,392.5 v4 M120.1,394.5 h4 M122.2,394.7 v4 M120.2,396.7 h4 M131,420.5 v4 M129,422.5 h4 M145,440.5 v4 M143,442.5 h4 M122,398 v4 M120,400 h4 M122.5,401 v4 M120.5,403 h4 M123,403.5 v4 M121,405.5 h4 M123.8,405.5 v4 M121.8,407.5 h4 M125.5,409 v4 M123.5,411 h4 M152.5,451.8 v4 M150.5,453.8 h4 M206.3,471.7 v4 M204.3,473.7 h4 M271.9,483 v4 M269.9,485 h4 M311.9,483 v4 M309.9,485 h4 M322.5,483 v4 M320.5,485 h4 M337.9,483 v4 M335.9,485 h4 M346.5,483 v4 M344.5,485 h4 M361,483 v4 M359,485 h4 M389.8,483 v4 M387.8,485 h4 M455.5,483 v4 M453.5,485 h4 M462.5,483 v4 M460.5,485 h4 M465,483 v4 M463,485 h4 M469.5,483 v4 M467.5,485 h4 M501.3,483 v4 M499.3,485 h4" fill="none" stroke="#4f9e5a" stroke-width="0.9"/>
<text transform="translate(95.80,247.80) scale(0.918,1)" font-size="8.6" text-anchor="end" fill="#333" stroke="#333" stroke-width="0.25">Patients at risk</text>
<text transform="translate(96.00,259.60) scale(0.92,1)" font-size="8.7" text-anchor="end" fill="#3a6690" stroke="#3a6690" stroke-width="0.25">Axi-cel, MTV high</text>
<text transform="translate(104.40,259.60) scale(0.92,1)" font-size="8.5" text-anchor="middle" fill="#3a6690" stroke="#3a6690" stroke-width="0.25">87</text>
<text transform="translate(116.29,259.60) scale(0.92,1)" font-size="8.5" text-anchor="middle" fill="#3a6690" stroke="#3a6690" stroke-width="0.25">84</text>
<text transform="translate(128.17,259.60) scale(0.92,1)" font-size="8.5" text-anchor="middle" fill="#3a6690" stroke="#3a6690" stroke-width="0.25">80</text>
<text transform="translate(140.06,259.60) scale(0.92,1)" font-size="8.5" text-anchor="middle" fill="#3a6690" stroke="#3a6690" stroke-width="0.25">71</text>
<text transform="translate(151.94,259.60) scale(0.92,1)" font-size="8.5" text-anchor="middle" fill="#3a6690" stroke="#3a6690" stroke-width="0.25">47</text>
<text transform="translate(163.82,259.60) scale(0.92,1)" font-size="8.5" text-anchor="middle" fill="#3a6690" stroke="#3a6690" stroke-width="0.25">41</text>
<text transform="translate(175.71,259.60) scale(0.92,1)" font-size="8.5" text-anchor="middle" fill="#3a6690" stroke="#3a6690" stroke-width="0.25">38</text>
<text transform="translate(187.59,259.60) scale(0.92,1)" font-size="8.5" text-anchor="middle" fill="#3a6690" stroke="#3a6690" stroke-width="0.25">38</text>
<text transform="translate(199.48,259.60) scale(0.92,1)" font-size="8.5" text-anchor="middle" fill="#3a6690" stroke="#3a6690" stroke-width="0.25">38</text>
<text transform="translate(211.37,259.60) scale(0.92,1)" font-size="8.5" text-anchor="middle" fill="#3a6690" stroke="#3a6690" stroke-width="0.25">37</text>
<text transform="translate(223.25,259.60) scale(0.92,1)" font-size="8.5" text-anchor="middle" fill="#3a6690" stroke="#3a6690" stroke-width="0.25">37</text>
<text transform="translate(235.13,259.60) scale(0.92,1)" font-size="8.5" text-anchor="middle" fill="#3a6690" stroke="#3a6690" stroke-width="0.25">37</text>
<text transform="translate(247.02,259.60) scale(0.92,1)" font-size="8.5" text-anchor="middle" fill="#3a6690" stroke="#3a6690" stroke-width="0.25">37</text>
<text transform="translate(258.90,259.60) scale(0.92,1)" font-size="8.5" text-anchor="middle" fill="#3a6690" stroke="#3a6690" stroke-width="0.25">37</text>
<text transform="translate(270.79,259.60) scale(0.92,1)" font-size="8.5" text-anchor="middle" fill="#3a6690" stroke="#3a6690" stroke-width="0.25">36</text>
<text transform="translate(282.68,259.60) scale(0.92,1)" font-size="8.5" text-anchor="middle" fill="#3a6690" stroke="#3a6690" stroke-width="0.25">33</text>
<text transform="translate(294.56,259.60) scale(0.92,1)" font-size="8.5" text-anchor="middle" fill="#3a6690" stroke="#3a6690" stroke-width="0.25">32</text>
<text transform="translate(306.44,259.60) scale(0.92,1)" font-size="8.5" text-anchor="middle" fill="#3a6690" stroke="#3a6690" stroke-width="0.25">32</text>
<text transform="translate(318.33,259.60) scale(0.92,1)" font-size="8.5" text-anchor="middle" fill="#3a6690" stroke="#3a6690" stroke-width="0.25">29</text>
<text transform="translate(330.22,259.60) scale(0.92,1)" font-size="8.5" text-anchor="middle" fill="#3a6690" stroke="#3a6690" stroke-width="0.25">22</text>
<text transform="translate(342.10,259.60) scale(0.92,1)" font-size="8.5" text-anchor="middle" fill="#3a6690" stroke="#3a6690" stroke-width="0.25">22</text>
<text transform="translate(353.99,259.60) scale(0.92,1)" font-size="8.5" text-anchor="middle" fill="#3a6690" stroke="#3a6690" stroke-width="0.25">18</text>
<text transform="translate(365.87,259.60) scale(0.92,1)" font-size="8.5" text-anchor="middle" fill="#3a6690" stroke="#3a6690" stroke-width="0.25">16</text>
<text transform="translate(377.75,259.60) scale(0.92,1)" font-size="8.5" text-anchor="middle" fill="#3a6690" stroke="#3a6690" stroke-width="0.25">13</text>
<text transform="translate(389.64,259.60) scale(0.92,1)" font-size="8.5" text-anchor="middle" fill="#3a6690" stroke="#3a6690" stroke-width="0.25">9</text>
<text transform="translate(401.52,259.60) scale(0.92,1)" font-size="8.5" text-anchor="middle" fill="#3a6690" stroke="#3a6690" stroke-width="0.25">7</text>
<text transform="translate(413.41,259.60) scale(0.92,1)" font-size="8.5" text-anchor="middle" fill="#3a6690" stroke="#3a6690" stroke-width="0.25">6</text>
<text transform="translate(425.29,259.60) scale(0.92,1)" font-size="8.5" text-anchor="middle" fill="#3a6690" stroke="#3a6690" stroke-width="0.25">6</text>
<text transform="translate(437.18,259.60) scale(0.92,1)" font-size="8.5" text-anchor="middle" fill="#3a6690" stroke="#3a6690" stroke-width="0.25">6</text>
<text transform="translate(449.07,259.60) scale(0.92,1)" font-size="8.5" text-anchor="middle" fill="#3a6690" stroke="#3a6690" stroke-width="0.25">5</text>
<text transform="translate(460.95,259.60) scale(0.92,1)" font-size="8.5" text-anchor="middle" fill="#3a6690" stroke="#3a6690" stroke-width="0.25">4</text>
<text transform="translate(472.84,259.60) scale(0.92,1)" font-size="8.5" text-anchor="middle" fill="#3a6690" stroke="#3a6690" stroke-width="0.25">0</text>
<text transform="translate(96.00,271.30) scale(0.92,1)" font-size="8.7" text-anchor="end" fill="#c43a55" stroke="#c43a55" stroke-width="0.25">Axi-cel, MTV low</text>
<text transform="translate(104.40,271.30) scale(0.92,1)" font-size="8.5" text-anchor="middle" fill="#c43a55" stroke="#c43a55" stroke-width="0.25">88</text>
<text transform="translate(116.29,271.30) scale(0.92,1)" font-size="8.5" text-anchor="middle" fill="#c43a55" stroke="#c43a55" stroke-width="0.25">88</text>
<text transform="translate(128.17,271.30) scale(0.92,1)" font-size="8.5" text-anchor="middle" fill="#c43a55" stroke="#c43a55" stroke-width="0.25">82</text>
<text transform="translate(140.06,271.30) scale(0.92,1)" font-size="8.5" text-anchor="middle" fill="#c43a55" stroke="#c43a55" stroke-width="0.25">73</text>
<text transform="translate(151.94,271.30) scale(0.92,1)" font-size="8.5" text-anchor="middle" fill="#c43a55" stroke="#c43a55" stroke-width="0.25">58</text>
<text transform="translate(163.82,271.30) scale(0.92,1)" font-size="8.5" text-anchor="middle" fill="#c43a55" stroke="#c43a55" stroke-width="0.25">56</text>
<text transform="translate(175.71,271.30) scale(0.92,1)" font-size="8.5" text-anchor="middle" fill="#c43a55" stroke="#c43a55" stroke-width="0.25">53</text>
<text transform="translate(187.59,271.30) scale(0.92,1)" font-size="8.5" text-anchor="middle" fill="#c43a55" stroke="#c43a55" stroke-width="0.25">53</text>
<text transform="translate(199.48,271.30) scale(0.92,1)" font-size="8.5" text-anchor="middle" fill="#c43a55" stroke="#c43a55" stroke-width="0.25">52</text>
<text transform="translate(211.37,271.30) scale(0.92,1)" font-size="8.5" text-anchor="middle" fill="#c43a55" stroke="#c43a55" stroke-width="0.25">51</text>
<text transform="translate(223.25,271.30) scale(0.92,1)" font-size="8.5" text-anchor="middle" fill="#c43a55" stroke="#c43a55" stroke-width="0.25">49</text>
<text transform="translate(235.13,271.30) scale(0.92,1)" font-size="8.5" text-anchor="middle" fill="#c43a55" stroke="#c43a55" stroke-width="0.25">47</text>
<text transform="translate(247.02,271.30) scale(0.92,1)" font-size="8.5" text-anchor="middle" fill="#c43a55" stroke="#c43a55" stroke-width="0.25">47</text>
<text transform="translate(258.90,271.30) scale(0.92,1)" font-size="8.5" text-anchor="middle" fill="#c43a55" stroke="#c43a55" stroke-width="0.25">45</text>
<text transform="translate(270.79,271.30) scale(0.92,1)" font-size="8.5" text-anchor="middle" fill="#c43a55" stroke="#c43a55" stroke-width="0.25">45</text>
<text transform="translate(282.68,271.30) scale(0.92,1)" font-size="8.5" text-anchor="middle" fill="#c43a55" stroke="#c43a55" stroke-width="0.25">43</text>
<text transform="translate(294.56,271.30) scale(0.92,1)" font-size="8.5" text-anchor="middle" fill="#c43a55" stroke="#c43a55" stroke-width="0.25">41</text>
<text transform="translate(306.44,271.30) scale(0.92,1)" font-size="8.5" text-anchor="middle" fill="#c43a55" stroke="#c43a55" stroke-width="0.25">41</text>
<text transform="translate(318.33,271.30) scale(0.92,1)" font-size="8.5" text-anchor="middle" fill="#c43a55" stroke="#c43a55" stroke-width="0.25">38</text>
<text transform="translate(330.22,271.30) scale(0.92,1)" font-size="8.5" text-anchor="middle" fill="#c43a55" stroke="#c43a55" stroke-width="0.25">35</text>
<text transform="translate(342.10,271.30) scale(0.92,1)" font-size="8.5" text-anchor="middle" fill="#c43a55" stroke="#c43a55" stroke-width="0.25">30</text>
<text transform="translate(353.99,271.30) scale(0.92,1)" font-size="8.5" text-anchor="middle" fill="#c43a55" stroke="#c43a55" stroke-width="0.25">28</text>
<text transform="translate(365.87,271.30) scale(0.92,1)" font-size="8.5" text-anchor="middle" fill="#c43a55" stroke="#c43a55" stroke-width="0.25">24</text>
<text transform="translate(377.75,271.30) scale(0.92,1)" font-size="8.5" text-anchor="middle" fill="#c43a55" stroke="#c43a55" stroke-width="0.25">23</text>
<text transform="translate(389.64,271.30) scale(0.92,1)" font-size="8.5" text-anchor="middle" fill="#c43a55" stroke="#c43a55" stroke-width="0.25">17</text>
<text transform="translate(401.52,271.30) scale(0.92,1)" font-size="8.5" text-anchor="middle" fill="#c43a55" stroke="#c43a55" stroke-width="0.25">7</text>
<text transform="translate(413.41,271.30) scale(0.92,1)" font-size="8.5" text-anchor="middle" fill="#c43a55" stroke="#c43a55" stroke-width="0.25">6</text>
<text transform="translate(425.29,271.30) scale(0.92,1)" font-size="8.5" text-anchor="middle" fill="#c43a55" stroke="#c43a55" stroke-width="0.25">6</text>
<text transform="translate(437.18,271.30) scale(0.92,1)" font-size="8.5" text-anchor="middle" fill="#c43a55" stroke="#c43a55" stroke-width="0.25">6</text>
<text transform="translate(449.07,271.30) scale(0.92,1)" font-size="8.5" text-anchor="middle" fill="#c43a55" stroke="#c43a55" stroke-width="0.25">5</text>
<text transform="translate(460.95,271.30) scale(0.92,1)" font-size="8.5" text-anchor="middle" fill="#c43a55" stroke="#c43a55" stroke-width="0.25">2</text>
<text transform="translate(472.84,271.30) scale(0.92,1)" font-size="8.5" text-anchor="middle" fill="#c43a55" stroke="#c43a55" stroke-width="0.25">0</text>
<text transform="translate(96.00,283.00) scale(0.92,1)" font-size="8.7" text-anchor="end" fill="#4f9a50" stroke="#4f9a50" stroke-width="0.25">Standard care, MTV high</text>
<text transform="translate(104.40,283.00) scale(0.92,1)" font-size="8.5" text-anchor="middle" fill="#4f9a50" stroke="#4f9a50" stroke-width="0.25">83</text>
<text transform="translate(116.29,283.00) scale(0.92,1)" font-size="8.5" text-anchor="middle" fill="#4f9a50" stroke="#4f9a50" stroke-width="0.25">71</text>
<text transform="translate(128.17,283.00) scale(0.92,1)" font-size="8.5" text-anchor="middle" fill="#4f9a50" stroke="#4f9a50" stroke-width="0.25">36</text>
<text transform="translate(140.06,283.00) scale(0.92,1)" font-size="8.5" text-anchor="middle" fill="#4f9a50" stroke="#4f9a50" stroke-width="0.25">28</text>
<text transform="translate(151.94,283.00) scale(0.92,1)" font-size="8.5" text-anchor="middle" fill="#4f9a50" stroke="#4f9a50" stroke-width="0.25">20</text>
<text transform="translate(163.82,283.00) scale(0.92,1)" font-size="8.5" text-anchor="middle" fill="#4f9a50" stroke="#4f9a50" stroke-width="0.25">18</text>
<text transform="translate(175.71,283.00) scale(0.92,1)" font-size="8.5" text-anchor="middle" fill="#4f9a50" stroke="#4f9a50" stroke-width="0.25">16</text>
<text transform="translate(187.59,283.00) scale(0.92,1)" font-size="8.5" text-anchor="middle" fill="#4f9a50" stroke="#4f9a50" stroke-width="0.25">15</text>
<text transform="translate(199.48,283.00) scale(0.92,1)" font-size="8.5" text-anchor="middle" fill="#4f9a50" stroke="#4f9a50" stroke-width="0.25">15</text>
<text transform="translate(211.37,283.00) scale(0.92,1)" font-size="8.5" text-anchor="middle" fill="#4f9a50" stroke="#4f9a50" stroke-width="0.25">11</text>
<text transform="translate(223.25,283.00) scale(0.92,1)" font-size="8.5" text-anchor="middle" fill="#4f9a50" stroke="#4f9a50" stroke-width="0.25">11</text>
<text transform="translate(235.13,283.00) scale(0.92,1)" font-size="8.5" text-anchor="middle" fill="#4f9a50" stroke="#4f9a50" stroke-width="0.25">11</text>
<text transform="translate(247.02,283.00) scale(0.92,1)" font-size="8.5" text-anchor="middle" fill="#4f9a50" stroke="#4f9a50" stroke-width="0.25">11</text>
<text transform="translate(258.90,283.00) scale(0.92,1)" font-size="8.5" text-anchor="middle" fill="#4f9a50" stroke="#4f9a50" stroke-width="0.25">10</text>
<text transform="translate(270.79,283.00) scale(0.92,1)" font-size="8.5" text-anchor="middle" fill="#4f9a50" stroke="#4f9a50" stroke-width="0.25">10</text>
<text transform="translate(282.68,283.00) scale(0.92,1)" font-size="8.5" text-anchor="middle" fill="#4f9a50" stroke="#4f9a50" stroke-width="0.25">9</text>
<text transform="translate(294.56,283.00) scale(0.92,1)" font-size="8.5" text-anchor="middle" fill="#4f9a50" stroke="#4f9a50" stroke-width="0.25">9</text>
<text transform="translate(306.44,283.00) scale(0.92,1)" font-size="8.5" text-anchor="middle" fill="#4f9a50" stroke="#4f9a50" stroke-width="0.25">9</text>
<text transform="translate(318.33,283.00) scale(0.92,1)" font-size="8.5" text-anchor="middle" fill="#4f9a50" stroke="#4f9a50" stroke-width="0.25">8</text>
<text transform="translate(330.22,283.00) scale(0.92,1)" font-size="8.5" text-anchor="middle" fill="#4f9a50" stroke="#4f9a50" stroke-width="0.25">7</text>
<text transform="translate(342.10,283.00) scale(0.92,1)" font-size="8.5" text-anchor="middle" fill="#4f9a50" stroke="#4f9a50" stroke-width="0.25">6</text>
<text transform="translate(353.99,283.00) scale(0.92,1)" font-size="8.5" text-anchor="middle" fill="#4f9a50" stroke="#4f9a50" stroke-width="0.25">5</text>
<text transform="translate(365.87,283.00) scale(0.92,1)" font-size="8.5" text-anchor="middle" fill="#4f9a50" stroke="#4f9a50" stroke-width="0.25">4</text>
<text transform="translate(377.75,283.00) scale(0.92,1)" font-size="8.5" text-anchor="middle" fill="#4f9a50" stroke="#4f9a50" stroke-width="0.25">4</text>
<text transform="translate(389.64,283.00) scale(0.92,1)" font-size="8.5" text-anchor="middle" fill="#4f9a50" stroke="#4f9a50" stroke-width="0.25">4</text>
<text transform="translate(401.52,283.00) scale(0.92,1)" font-size="8.5" text-anchor="middle" fill="#4f9a50" stroke="#4f9a50" stroke-width="0.25">4</text>
<text transform="translate(413.41,283.00) scale(0.92,1)" font-size="8.5" text-anchor="middle" fill="#4f9a50" stroke="#4f9a50" stroke-width="0.25">4</text>
<text transform="translate(425.29,283.00) scale(0.92,1)" font-size="8.5" text-anchor="middle" fill="#4f9a50" stroke="#4f9a50" stroke-width="0.25">4</text>
<text transform="translate(437.18,283.00) scale(0.92,1)" font-size="8.5" text-anchor="middle" fill="#4f9a50" stroke="#4f9a50" stroke-width="0.25">4</text>
<text transform="translate(449.07,283.00) scale(0.92,1)" font-size="8.5" text-anchor="middle" fill="#4f9a50" stroke="#4f9a50" stroke-width="0.25">4</text>
<text transform="translate(460.95,283.00) scale(0.92,1)" font-size="8.5" text-anchor="middle" fill="#4f9a50" stroke="#4f9a50" stroke-width="0.25">3</text>
<text transform="translate(472.84,283.00) scale(0.92,1)" font-size="8.5" text-anchor="middle" fill="#4f9a50" stroke="#4f9a50" stroke-width="0.25">1</text>
<text transform="translate(484.72,283.00) scale(0.92,1)" font-size="8.5" text-anchor="middle" fill="#4f9a50" stroke="#4f9a50" stroke-width="0.25">1</text>
<text transform="translate(496.61,283.00) scale(0.92,1)" font-size="8.5" text-anchor="middle" fill="#4f9a50" stroke="#4f9a50" stroke-width="0.25">1</text>
<text transform="translate(508.49,283.00) scale(0.92,1)" font-size="8.5" text-anchor="middle" fill="#4f9a50" stroke="#4f9a50" stroke-width="0.25">0</text>
<text transform="translate(96.00,294.60) scale(0.92,1)" font-size="8.7" text-anchor="end" fill="#45325a" stroke="#45325a" stroke-width="0.25">Standard care, MTV low</text>
<text transform="translate(104.40,294.60) scale(0.92,1)" font-size="8.5" text-anchor="middle" fill="#45325a" stroke="#45325a" stroke-width="0.25">82</text>
<text transform="translate(116.29,294.60) scale(0.92,1)" font-size="8.5" text-anchor="middle" fill="#45325a" stroke="#45325a" stroke-width="0.25">76</text>
<text transform="translate(128.17,294.60) scale(0.92,1)" font-size="8.5" text-anchor="middle" fill="#45325a" stroke="#45325a" stroke-width="0.25">48</text>
<text transform="translate(140.06,294.60) scale(0.92,1)" font-size="8.5" text-anchor="middle" fill="#45325a" stroke="#45325a" stroke-width="0.25">41</text>
<text transform="translate(151.94,294.60) scale(0.92,1)" font-size="8.5" text-anchor="middle" fill="#45325a" stroke="#45325a" stroke-width="0.25">33</text>
<text transform="translate(163.82,294.60) scale(0.92,1)" font-size="8.5" text-anchor="middle" fill="#45325a" stroke="#45325a" stroke-width="0.25">32</text>
<text transform="translate(175.71,294.60) scale(0.92,1)" font-size="8.5" text-anchor="middle" fill="#45325a" stroke="#45325a" stroke-width="0.25">29</text>
<text transform="translate(187.59,294.60) scale(0.92,1)" font-size="8.5" text-anchor="middle" fill="#45325a" stroke="#45325a" stroke-width="0.25">27</text>
<text transform="translate(199.48,294.60) scale(0.92,1)" font-size="8.5" text-anchor="middle" fill="#45325a" stroke="#45325a" stroke-width="0.25">23</text>
<text transform="translate(211.37,294.60) scale(0.92,1)" font-size="8.5" text-anchor="middle" fill="#45325a" stroke="#45325a" stroke-width="0.25">21</text>
<text transform="translate(223.25,294.60) scale(0.92,1)" font-size="8.5" text-anchor="middle" fill="#45325a" stroke="#45325a" stroke-width="0.25">21</text>
<text transform="translate(235.13,294.60) scale(0.92,1)" font-size="8.5" text-anchor="middle" fill="#45325a" stroke="#45325a" stroke-width="0.25">19</text>
<text transform="translate(247.02,294.60) scale(0.92,1)" font-size="8.5" text-anchor="middle" fill="#45325a" stroke="#45325a" stroke-width="0.25">18</text>
<text transform="translate(258.90,294.60) scale(0.92,1)" font-size="8.5" text-anchor="middle" fill="#45325a" stroke="#45325a" stroke-width="0.25">17</text>
<text transform="translate(270.79,294.60) scale(0.92,1)" font-size="8.5" text-anchor="middle" fill="#45325a" stroke="#45325a" stroke-width="0.25">17</text>
<text transform="translate(282.68,294.60) scale(0.92,1)" font-size="8.5" text-anchor="middle" fill="#45325a" stroke="#45325a" stroke-width="0.25">16</text>
<text transform="translate(294.56,294.60) scale(0.92,1)" font-size="8.5" text-anchor="middle" fill="#45325a" stroke="#45325a" stroke-width="0.25">16</text>
<text transform="translate(306.44,294.60) scale(0.92,1)" font-size="8.5" text-anchor="middle" fill="#45325a" stroke="#45325a" stroke-width="0.25">16</text>
<text transform="translate(318.33,294.60) scale(0.92,1)" font-size="8.5" text-anchor="middle" fill="#45325a" stroke="#45325a" stroke-width="0.25">16</text>
<text transform="translate(330.22,294.60) scale(0.92,1)" font-size="8.5" text-anchor="middle" fill="#45325a" stroke="#45325a" stroke-width="0.25">14</text>
<text transform="translate(342.10,294.60) scale(0.92,1)" font-size="8.5" text-anchor="middle" fill="#45325a" stroke="#45325a" stroke-width="0.25">14</text>
<text transform="translate(353.99,294.60) scale(0.92,1)" font-size="8.5" text-anchor="middle" fill="#45325a" stroke="#45325a" stroke-width="0.25">13</text>
<text transform="translate(365.87,294.60) scale(0.92,1)" font-size="8.5" text-anchor="middle" fill="#45325a" stroke="#45325a" stroke-width="0.25">8</text>
<text transform="translate(377.75,294.60) scale(0.92,1)" font-size="8.5" text-anchor="middle" fill="#45325a" stroke="#45325a" stroke-width="0.25">6</text>
<text transform="translate(389.64,294.60) scale(0.92,1)" font-size="8.5" text-anchor="middle" fill="#45325a" stroke="#45325a" stroke-width="0.25">5</text>
<text transform="translate(401.52,294.60) scale(0.92,1)" font-size="8.5" text-anchor="middle" fill="#45325a" stroke="#45325a" stroke-width="0.25">3</text>
<text transform="translate(413.41,294.60) scale(0.92,1)" font-size="8.5" text-anchor="middle" fill="#45325a" stroke="#45325a" stroke-width="0.25">3</text>
<text transform="translate(425.29,294.60) scale(0.92,1)" font-size="8.5" text-anchor="middle" fill="#45325a" stroke="#45325a" stroke-width="0.25">2</text>
<text transform="translate(437.18,294.60) scale(0.92,1)" font-size="8.5" text-anchor="middle" fill="#45325a" stroke="#45325a" stroke-width="0.25">2</text>
<text transform="translate(449.07,294.60) scale(0.92,1)" font-size="8.5" text-anchor="middle" fill="#45325a" stroke="#45325a" stroke-width="0.25">2</text>
<text transform="translate(460.95,294.60) scale(0.92,1)" font-size="8.5" text-anchor="middle" fill="#45325a" stroke="#45325a" stroke-width="0.25">0</text>
<text transform="translate(95.80,563.50) scale(0.918,1)" font-size="8.6" text-anchor="end" fill="#333" stroke="#333" stroke-width="0.25">Patients at risk</text>
<text transform="translate(96.00,575.60) scale(0.92,1)" font-size="8.7" text-anchor="end" fill="#3a6690" stroke="#3a6690" stroke-width="0.25">Axi-cel, MTV high</text>
<text transform="translate(104.40,575.60) scale(0.92,1)" font-size="8.5" text-anchor="middle" fill="#3a6690" stroke="#3a6690" stroke-width="0.25">87</text>
<text transform="translate(116.29,575.60) scale(0.92,1)" font-size="8.5" text-anchor="middle" fill="#3a6690" stroke="#3a6690" stroke-width="0.25">84</text>
<text transform="translate(128.17,575.60) scale(0.92,1)" font-size="8.5" text-anchor="middle" fill="#3a6690" stroke="#3a6690" stroke-width="0.25">82</text>
<text transform="translate(140.06,575.60) scale(0.92,1)" font-size="8.5" text-anchor="middle" fill="#3a6690" stroke="#3a6690" stroke-width="0.25">76</text>
<text transform="translate(151.94,575.60) scale(0.92,1)" font-size="8.5" text-anchor="middle" fill="#3a6690" stroke="#3a6690" stroke-width="0.25">48</text>
<text transform="translate(163.82,575.60) scale(0.92,1)" font-size="8.5" text-anchor="middle" fill="#3a6690" stroke="#3a6690" stroke-width="0.25">43</text>
<text transform="translate(175.71,575.60) scale(0.92,1)" font-size="8.5" text-anchor="middle" fill="#3a6690" stroke="#3a6690" stroke-width="0.25">42</text>
<text transform="translate(187.59,575.60) scale(0.92,1)" font-size="8.5" text-anchor="middle" fill="#3a6690" stroke="#3a6690" stroke-width="0.25">42</text>
<text transform="translate(199.48,575.60) scale(0.92,1)" font-size="8.5" text-anchor="middle" fill="#3a6690" stroke="#3a6690" stroke-width="0.25">42</text>
<text transform="translate(211.37,575.60) scale(0.92,1)" font-size="8.5" text-anchor="middle" fill="#3a6690" stroke="#3a6690" stroke-width="0.25">41</text>
<text transform="translate(223.25,575.60) scale(0.92,1)" font-size="8.5" text-anchor="middle" fill="#3a6690" stroke="#3a6690" stroke-width="0.25">40</text>
<text transform="translate(235.13,575.60) scale(0.92,1)" font-size="8.5" text-anchor="middle" fill="#3a6690" stroke="#3a6690" stroke-width="0.25">40</text>
<text transform="translate(247.02,575.60) scale(0.92,1)" font-size="8.5" text-anchor="middle" fill="#3a6690" stroke="#3a6690" stroke-width="0.25">38</text>
<text transform="translate(258.90,575.60) scale(0.92,1)" font-size="8.5" text-anchor="middle" fill="#3a6690" stroke="#3a6690" stroke-width="0.25">38</text>
<text transform="translate(270.79,575.60) scale(0.92,1)" font-size="8.5" text-anchor="middle" fill="#3a6690" stroke="#3a6690" stroke-width="0.25">38</text>
<text transform="translate(282.68,575.60) scale(0.92,1)" font-size="8.5" text-anchor="middle" fill="#3a6690" stroke="#3a6690" stroke-width="0.25">36</text>
<text transform="translate(294.56,575.60) scale(0.92,1)" font-size="8.5" text-anchor="middle" fill="#3a6690" stroke="#3a6690" stroke-width="0.25">34</text>
<text transform="translate(306.44,575.60) scale(0.92,1)" font-size="8.5" text-anchor="middle" fill="#3a6690" stroke="#3a6690" stroke-width="0.25">34</text>
<text transform="translate(318.33,575.60) scale(0.92,1)" font-size="8.5" text-anchor="middle" fill="#3a6690" stroke="#3a6690" stroke-width="0.25">31</text>
<text transform="translate(330.22,575.60) scale(0.92,1)" font-size="8.5" text-anchor="middle" fill="#3a6690" stroke="#3a6690" stroke-width="0.25">23</text>
<text transform="translate(342.10,575.60) scale(0.92,1)" font-size="8.5" text-anchor="middle" fill="#3a6690" stroke="#3a6690" stroke-width="0.25">23</text>
<text transform="translate(353.99,575.60) scale(0.92,1)" font-size="8.5" text-anchor="middle" fill="#3a6690" stroke="#3a6690" stroke-width="0.25">19</text>
<text transform="translate(365.87,575.60) scale(0.92,1)" font-size="8.5" text-anchor="middle" fill="#3a6690" stroke="#3a6690" stroke-width="0.25">17</text>
<text transform="translate(377.75,575.60) scale(0.92,1)" font-size="8.5" text-anchor="middle" fill="#3a6690" stroke="#3a6690" stroke-width="0.25">14</text>
<text transform="translate(389.64,575.60) scale(0.92,1)" font-size="8.5" text-anchor="middle" fill="#3a6690" stroke="#3a6690" stroke-width="0.25">10</text>
<text transform="translate(401.52,575.60) scale(0.92,1)" font-size="8.5" text-anchor="middle" fill="#3a6690" stroke="#3a6690" stroke-width="0.25">7</text>
<text transform="translate(413.41,575.60) scale(0.92,1)" font-size="8.5" text-anchor="middle" fill="#3a6690" stroke="#3a6690" stroke-width="0.25">6</text>
<text transform="translate(425.29,575.60) scale(0.92,1)" font-size="8.5" text-anchor="middle" fill="#3a6690" stroke="#3a6690" stroke-width="0.25">6</text>
<text transform="translate(437.18,575.60) scale(0.92,1)" font-size="8.5" text-anchor="middle" fill="#3a6690" stroke="#3a6690" stroke-width="0.25">6</text>
<text transform="translate(449.07,575.60) scale(0.92,1)" font-size="8.5" text-anchor="middle" fill="#3a6690" stroke="#3a6690" stroke-width="0.25">5</text>
<text transform="translate(460.95,575.60) scale(0.92,1)" font-size="8.5" text-anchor="middle" fill="#3a6690" stroke="#3a6690" stroke-width="0.25">4</text>
<text transform="translate(472.84,575.60) scale(0.92,1)" font-size="8.5" text-anchor="middle" fill="#3a6690" stroke="#3a6690" stroke-width="0.25">0</text>
<text transform="translate(96.00,587.00) scale(0.92,1)" font-size="8.7" text-anchor="end" fill="#c43a55" stroke="#c43a55" stroke-width="0.25">Axi-cel, MTV low</text>
<text transform="translate(104.40,587.00) scale(0.92,1)" font-size="8.5" text-anchor="middle" fill="#c43a55" stroke="#c43a55" stroke-width="0.25">88</text>
<text transform="translate(116.29,587.00) scale(0.92,1)" font-size="8.5" text-anchor="middle" fill="#c43a55" stroke="#c43a55" stroke-width="0.25">87</text>
<text transform="translate(128.17,587.00) scale(0.92,1)" font-size="8.5" text-anchor="middle" fill="#c43a55" stroke="#c43a55" stroke-width="0.25">83</text>
<text transform="translate(140.06,587.00) scale(0.92,1)" font-size="8.5" text-anchor="middle" fill="#c43a55" stroke="#c43a55" stroke-width="0.25">77</text>
<text transform="translate(151.94,587.00) scale(0.92,1)" font-size="8.5" text-anchor="middle" fill="#c43a55" stroke="#c43a55" stroke-width="0.25">63</text>
<text transform="translate(163.82,587.00) scale(0.92,1)" font-size="8.5" text-anchor="middle" fill="#c43a55" stroke="#c43a55" stroke-width="0.25">60</text>
<text transform="translate(175.71,587.00) scale(0.92,1)" font-size="8.5" text-anchor="middle" fill="#c43a55" stroke="#c43a55" stroke-width="0.25">57</text>
<text transform="translate(187.59,587.00) scale(0.92,1)" font-size="8.5" text-anchor="middle" fill="#c43a55" stroke="#c43a55" stroke-width="0.25">57</text>
<text transform="translate(199.48,587.00) scale(0.92,1)" font-size="8.5" text-anchor="middle" fill="#c43a55" stroke="#c43a55" stroke-width="0.25">56</text>
<text transform="translate(211.37,587.00) scale(0.92,1)" font-size="8.5" text-anchor="middle" fill="#c43a55" stroke="#c43a55" stroke-width="0.25">55</text>
<text transform="translate(223.25,587.00) scale(0.92,1)" font-size="8.5" text-anchor="middle" fill="#c43a55" stroke="#c43a55" stroke-width="0.25">53</text>
<text transform="translate(235.13,587.00) scale(0.92,1)" font-size="8.5" text-anchor="middle" fill="#c43a55" stroke="#c43a55" stroke-width="0.25">51</text>
<text transform="translate(247.02,587.00) scale(0.92,1)" font-size="8.5" text-anchor="middle" fill="#c43a55" stroke="#c43a55" stroke-width="0.25">51</text>
<text transform="translate(258.90,587.00) scale(0.92,1)" font-size="8.5" text-anchor="middle" fill="#c43a55" stroke="#c43a55" stroke-width="0.25">49</text>
<text transform="translate(270.79,587.00) scale(0.92,1)" font-size="8.5" text-anchor="middle" fill="#c43a55" stroke="#c43a55" stroke-width="0.25">49</text>
<text transform="translate(282.68,587.00) scale(0.92,1)" font-size="8.5" text-anchor="middle" fill="#c43a55" stroke="#c43a55" stroke-width="0.25">47</text>
<text transform="translate(294.56,587.00) scale(0.92,1)" font-size="8.5" text-anchor="middle" fill="#c43a55" stroke="#c43a55" stroke-width="0.25">45</text>
<text transform="translate(306.44,587.00) scale(0.92,1)" font-size="8.5" text-anchor="middle" fill="#c43a55" stroke="#c43a55" stroke-width="0.25">45</text>
<text transform="translate(318.33,587.00) scale(0.92,1)" font-size="8.5" text-anchor="middle" fill="#c43a55" stroke="#c43a55" stroke-width="0.25">42</text>
<text transform="translate(330.22,587.00) scale(0.92,1)" font-size="8.5" text-anchor="middle" fill="#c43a55" stroke="#c43a55" stroke-width="0.25">38</text>
<text transform="translate(342.10,587.00) scale(0.92,1)" font-size="8.5" text-anchor="middle" fill="#c43a55" stroke="#c43a55" stroke-width="0.25">33</text>
<text transform="translate(353.99,587.00) scale(0.92,1)" font-size="8.5" text-anchor="middle" fill="#c43a55" stroke="#c43a55" stroke-width="0.25">30</text>
<text transform="translate(365.87,587.00) scale(0.92,1)" font-size="8.5" text-anchor="middle" fill="#c43a55" stroke="#c43a55" stroke-width="0.25">26</text>
<text transform="translate(377.75,587.00) scale(0.92,1)" font-size="8.5" text-anchor="middle" fill="#c43a55" stroke="#c43a55" stroke-width="0.25">25</text>
<text transform="translate(389.64,587.00) scale(0.92,1)" font-size="8.5" text-anchor="middle" fill="#c43a55" stroke="#c43a55" stroke-width="0.25">18</text>
<text transform="translate(401.52,587.00) scale(0.92,1)" font-size="8.5" text-anchor="middle" fill="#c43a55" stroke="#c43a55" stroke-width="0.25">7</text>
<text transform="translate(413.41,587.00) scale(0.92,1)" font-size="8.5" text-anchor="middle" fill="#c43a55" stroke="#c43a55" stroke-width="0.25">6</text>
<text transform="translate(425.29,587.00) scale(0.92,1)" font-size="8.5" text-anchor="middle" fill="#c43a55" stroke="#c43a55" stroke-width="0.25">6</text>
<text transform="translate(437.18,587.00) scale(0.92,1)" font-size="8.5" text-anchor="middle" fill="#c43a55" stroke="#c43a55" stroke-width="0.25">6</text>
<text transform="translate(449.07,587.00) scale(0.92,1)" font-size="8.5" text-anchor="middle" fill="#c43a55" stroke="#c43a55" stroke-width="0.25">5</text>
<text transform="translate(460.95,587.00) scale(0.92,1)" font-size="8.5" text-anchor="middle" fill="#c43a55" stroke="#c43a55" stroke-width="0.25">2</text>
<text transform="translate(472.84,587.00) scale(0.92,1)" font-size="8.5" text-anchor="middle" fill="#c43a55" stroke="#c43a55" stroke-width="0.25">0</text>
<text transform="translate(96.00,598.70) scale(0.92,1)" font-size="8.7" text-anchor="end" fill="#4f9a50" stroke="#4f9a50" stroke-width="0.25">Standard care, MTV high</text>
<text transform="translate(104.40,598.70) scale(0.92,1)" font-size="8.5" text-anchor="middle" fill="#4f9a50" stroke="#4f9a50" stroke-width="0.25">83</text>
<text transform="translate(116.29,598.70) scale(0.92,1)" font-size="8.5" text-anchor="middle" fill="#4f9a50" stroke="#4f9a50" stroke-width="0.25">72</text>
<text transform="translate(128.17,598.70) scale(0.92,1)" font-size="8.5" text-anchor="middle" fill="#4f9a50" stroke="#4f9a50" stroke-width="0.25">38</text>
<text transform="translate(140.06,598.70) scale(0.92,1)" font-size="8.5" text-anchor="middle" fill="#4f9a50" stroke="#4f9a50" stroke-width="0.25">30</text>
<text transform="translate(151.94,598.70) scale(0.92,1)" font-size="8.5" text-anchor="middle" fill="#4f9a50" stroke="#4f9a50" stroke-width="0.25">23</text>
<text transform="translate(163.82,598.70) scale(0.92,1)" font-size="8.5" text-anchor="middle" fill="#4f9a50" stroke="#4f9a50" stroke-width="0.25">21</text>
<text transform="translate(175.71,598.70) scale(0.92,1)" font-size="8.5" text-anchor="middle" fill="#4f9a50" stroke="#4f9a50" stroke-width="0.25">17</text>
<text transform="translate(187.59,598.70) scale(0.92,1)" font-size="8.5" text-anchor="middle" fill="#4f9a50" stroke="#4f9a50" stroke-width="0.25">16</text>
<text transform="translate(199.48,598.70) scale(0.92,1)" font-size="8.5" text-anchor="middle" fill="#4f9a50" stroke="#4f9a50" stroke-width="0.25">16</text>
<text transform="translate(211.37,598.70) scale(0.92,1)" font-size="8.5" text-anchor="middle" fill="#4f9a50" stroke="#4f9a50" stroke-width="0.25">12</text>
<text transform="translate(223.25,598.70) scale(0.92,1)" font-size="8.5" text-anchor="middle" fill="#4f9a50" stroke="#4f9a50" stroke-width="0.25">12</text>
<text transform="translate(235.13,598.70) scale(0.92,1)" font-size="8.5" text-anchor="middle" fill="#4f9a50" stroke="#4f9a50" stroke-width="0.25">12</text>
<text transform="translate(247.02,598.70) scale(0.92,1)" font-size="8.5" text-anchor="middle" fill="#4f9a50" stroke="#4f9a50" stroke-width="0.25">12</text>
<text transform="translate(258.90,598.70) scale(0.92,1)" font-size="8.5" text-anchor="middle" fill="#4f9a50" stroke="#4f9a50" stroke-width="0.25">11</text>
<text transform="translate(270.79,598.70) scale(0.92,1)" font-size="8.5" text-anchor="middle" fill="#4f9a50" stroke="#4f9a50" stroke-width="0.25">11</text>
<text transform="translate(282.68,598.70) scale(0.92,1)" font-size="8.5" text-anchor="middle" fill="#4f9a50" stroke="#4f9a50" stroke-width="0.25">10</text>
<text transform="translate(294.56,598.70) scale(0.92,1)" font-size="8.5" text-anchor="middle" fill="#4f9a50" stroke="#4f9a50" stroke-width="0.25">10</text>
<text transform="translate(306.44,598.70) scale(0.92,1)" font-size="8.5" text-anchor="middle" fill="#4f9a50" stroke="#4f9a50" stroke-width="0.25">10</text>
<text transform="translate(318.33,598.70) scale(0.92,1)" font-size="8.5" text-anchor="middle" fill="#4f9a50" stroke="#4f9a50" stroke-width="0.25">9</text>
<text transform="translate(330.22,598.70) scale(0.92,1)" font-size="8.5" text-anchor="middle" fill="#4f9a50" stroke="#4f9a50" stroke-width="0.25">8</text>
<text transform="translate(342.10,598.70) scale(0.92,1)" font-size="8.5" text-anchor="middle" fill="#4f9a50" stroke="#4f9a50" stroke-width="0.25">7</text>
<text transform="translate(353.99,598.70) scale(0.92,1)" font-size="8.5" text-anchor="middle" fill="#4f9a50" stroke="#4f9a50" stroke-width="0.25">6</text>
<text transform="translate(365.87,598.70) scale(0.92,1)" font-size="8.5" text-anchor="middle" fill="#4f9a50" stroke="#4f9a50" stroke-width="0.25">5</text>
<text transform="translate(377.75,598.70) scale(0.92,1)" font-size="8.5" text-anchor="middle" fill="#4f9a50" stroke="#4f9a50" stroke-width="0.25">5</text>
<text transform="translate(389.64,598.70) scale(0.92,1)" font-size="8.5" text-anchor="middle" fill="#4f9a50" stroke="#4f9a50" stroke-width="0.25">4</text>
<text transform="translate(401.52,598.70) scale(0.92,1)" font-size="8.5" text-anchor="middle" fill="#4f9a50" stroke="#4f9a50" stroke-width="0.25">4</text>
<text transform="translate(413.41,598.70) scale(0.92,1)" font-size="8.5" text-anchor="middle" fill="#4f9a50" stroke="#4f9a50" stroke-width="0.25">4</text>
<text transform="translate(425.29,598.70) scale(0.92,1)" font-size="8.5" text-anchor="middle" fill="#4f9a50" stroke="#4f9a50" stroke-width="0.25">4</text>
<text transform="translate(437.18,598.70) scale(0.92,1)" font-size="8.5" text-anchor="middle" fill="#4f9a50" stroke="#4f9a50" stroke-width="0.25">4</text>
<text transform="translate(449.07,598.70) scale(0.92,1)" font-size="8.5" text-anchor="middle" fill="#4f9a50" stroke="#4f9a50" stroke-width="0.25">4</text>
<text transform="translate(460.95,598.70) scale(0.92,1)" font-size="8.5" text-anchor="middle" fill="#4f9a50" stroke="#4f9a50" stroke-width="0.25">3</text>
<text transform="translate(472.84,598.70) scale(0.92,1)" font-size="8.5" text-anchor="middle" fill="#4f9a50" stroke="#4f9a50" stroke-width="0.25">1</text>
<text transform="translate(484.72,598.70) scale(0.92,1)" font-size="8.5" text-anchor="middle" fill="#4f9a50" stroke="#4f9a50" stroke-width="0.25">1</text>
<text transform="translate(496.61,598.70) scale(0.92,1)" font-size="8.5" text-anchor="middle" fill="#4f9a50" stroke="#4f9a50" stroke-width="0.25">1</text>
<text transform="translate(508.49,598.70) scale(0.92,1)" font-size="8.5" text-anchor="middle" fill="#4f9a50" stroke="#4f9a50" stroke-width="0.25">0</text>
<text transform="translate(96.00,610.30) scale(0.92,1)" font-size="8.7" text-anchor="end" fill="#45325a" stroke="#45325a" stroke-width="0.25">Standard care, MTV low</text>
<text transform="translate(104.40,610.30) scale(0.92,1)" font-size="8.5" text-anchor="middle" fill="#45325a" stroke="#45325a" stroke-width="0.25">82</text>
<text transform="translate(116.29,610.30) scale(0.92,1)" font-size="8.5" text-anchor="middle" fill="#45325a" stroke="#45325a" stroke-width="0.25">79</text>
<text transform="translate(128.17,610.30) scale(0.92,1)" font-size="8.5" text-anchor="middle" fill="#45325a" stroke="#45325a" stroke-width="0.25">54</text>
<text transform="translate(140.06,610.30) scale(0.92,1)" font-size="8.5" text-anchor="middle" fill="#45325a" stroke="#45325a" stroke-width="0.25">47</text>
<text transform="translate(151.94,610.30) scale(0.92,1)" font-size="8.5" text-anchor="middle" fill="#45325a" stroke="#45325a" stroke-width="0.25">37</text>
<text transform="translate(163.82,610.30) scale(0.92,1)" font-size="8.5" text-anchor="middle" fill="#45325a" stroke="#45325a" stroke-width="0.25">35</text>
<text transform="translate(175.71,610.30) scale(0.92,1)" font-size="8.5" text-anchor="middle" fill="#45325a" stroke="#45325a" stroke-width="0.25">30</text>
<text transform="translate(187.59,610.30) scale(0.92,1)" font-size="8.5" text-anchor="middle" fill="#45325a" stroke="#45325a" stroke-width="0.25">29</text>
<text transform="translate(199.48,610.30) scale(0.92,1)" font-size="8.5" text-anchor="middle" fill="#45325a" stroke="#45325a" stroke-width="0.25">27</text>
<text transform="translate(211.37,610.30) scale(0.92,1)" font-size="8.5" text-anchor="middle" fill="#45325a" stroke="#45325a" stroke-width="0.25">25</text>
<text transform="translate(223.25,610.30) scale(0.92,1)" font-size="8.5" text-anchor="middle" fill="#45325a" stroke="#45325a" stroke-width="0.25">23</text>
<text transform="translate(235.13,610.30) scale(0.92,1)" font-size="8.5" text-anchor="middle" fill="#45325a" stroke="#45325a" stroke-width="0.25">22</text>
<text transform="translate(247.02,610.30) scale(0.92,1)" font-size="8.5" text-anchor="middle" fill="#45325a" stroke="#45325a" stroke-width="0.25">21</text>
<text transform="translate(258.90,610.30) scale(0.92,1)" font-size="8.5" text-anchor="middle" fill="#45325a" stroke="#45325a" stroke-width="0.25">20</text>
<text transform="translate(270.79,610.30) scale(0.92,1)" font-size="8.5" text-anchor="middle" fill="#45325a" stroke="#45325a" stroke-width="0.25">20</text>
<text transform="translate(282.68,610.30) scale(0.92,1)" font-size="8.5" text-anchor="middle" fill="#45325a" stroke="#45325a" stroke-width="0.25">19</text>
<text transform="translate(294.56,610.30) scale(0.92,1)" font-size="8.5" text-anchor="middle" fill="#45325a" stroke="#45325a" stroke-width="0.25">18</text>
<text transform="translate(306.44,610.30) scale(0.92,1)" font-size="8.5" text-anchor="middle" fill="#45325a" stroke="#45325a" stroke-width="0.25">18</text>
<text transform="translate(318.33,610.30) scale(0.92,1)" font-size="8.5" text-anchor="middle" fill="#45325a" stroke="#45325a" stroke-width="0.25">18</text>
<text transform="translate(330.22,610.30) scale(0.92,1)" font-size="8.5" text-anchor="middle" fill="#45325a" stroke="#45325a" stroke-width="0.25">17</text>
<text transform="translate(342.10,610.30) scale(0.92,1)" font-size="8.5" text-anchor="middle" fill="#45325a" stroke="#45325a" stroke-width="0.25">17</text>
<text transform="translate(353.99,610.30) scale(0.92,1)" font-size="8.5" text-anchor="middle" fill="#45325a" stroke="#45325a" stroke-width="0.25">16</text>
<text transform="translate(365.87,610.30) scale(0.92,1)" font-size="8.5" text-anchor="middle" fill="#45325a" stroke="#45325a" stroke-width="0.25">10</text>
<text transform="translate(377.75,610.30) scale(0.92,1)" font-size="8.5" text-anchor="middle" fill="#45325a" stroke="#45325a" stroke-width="0.25">8</text>
<text transform="translate(389.64,610.30) scale(0.92,1)" font-size="8.5" text-anchor="middle" fill="#45325a" stroke="#45325a" stroke-width="0.25">7</text>
<text transform="translate(401.52,610.30) scale(0.92,1)" font-size="8.5" text-anchor="middle" fill="#45325a" stroke="#45325a" stroke-width="0.25">5</text>
<text transform="translate(413.41,610.30) scale(0.92,1)" font-size="8.5" text-anchor="middle" fill="#45325a" stroke="#45325a" stroke-width="0.25">5</text>
<text transform="translate(425.29,610.30) scale(0.92,1)" font-size="8.5" text-anchor="middle" fill="#45325a" stroke="#45325a" stroke-width="0.25">3</text>
<text transform="translate(437.18,610.30) scale(0.92,1)" font-size="8.5" text-anchor="middle" fill="#45325a" stroke="#45325a" stroke-width="0.25">3</text>
<text transform="translate(449.07,610.30) scale(0.92,1)" font-size="8.5" text-anchor="middle" fill="#45325a" stroke="#45325a" stroke-width="0.25">3</text>
<text transform="translate(460.95,610.30) scale(0.92,1)" font-size="8.5" text-anchor="middle" fill="#45325a" stroke="#45325a" stroke-width="0.25">1</text>
<text transform="translate(472.84,610.30) scale(0.92,1)" font-size="8.5" text-anchor="middle" fill="#45325a" stroke="#45325a" stroke-width="0.25">1</text>
<text transform="translate(484.72,610.30) scale(0.92,1)" font-size="8.5" text-anchor="middle" fill="#45325a" stroke="#45325a" stroke-width="0.25">0</text>
<rect x="0.5" y="0.5" width="519" height="618" fill="none" stroke="#555" stroke-width="1"/>
</svg>
</body></html>
